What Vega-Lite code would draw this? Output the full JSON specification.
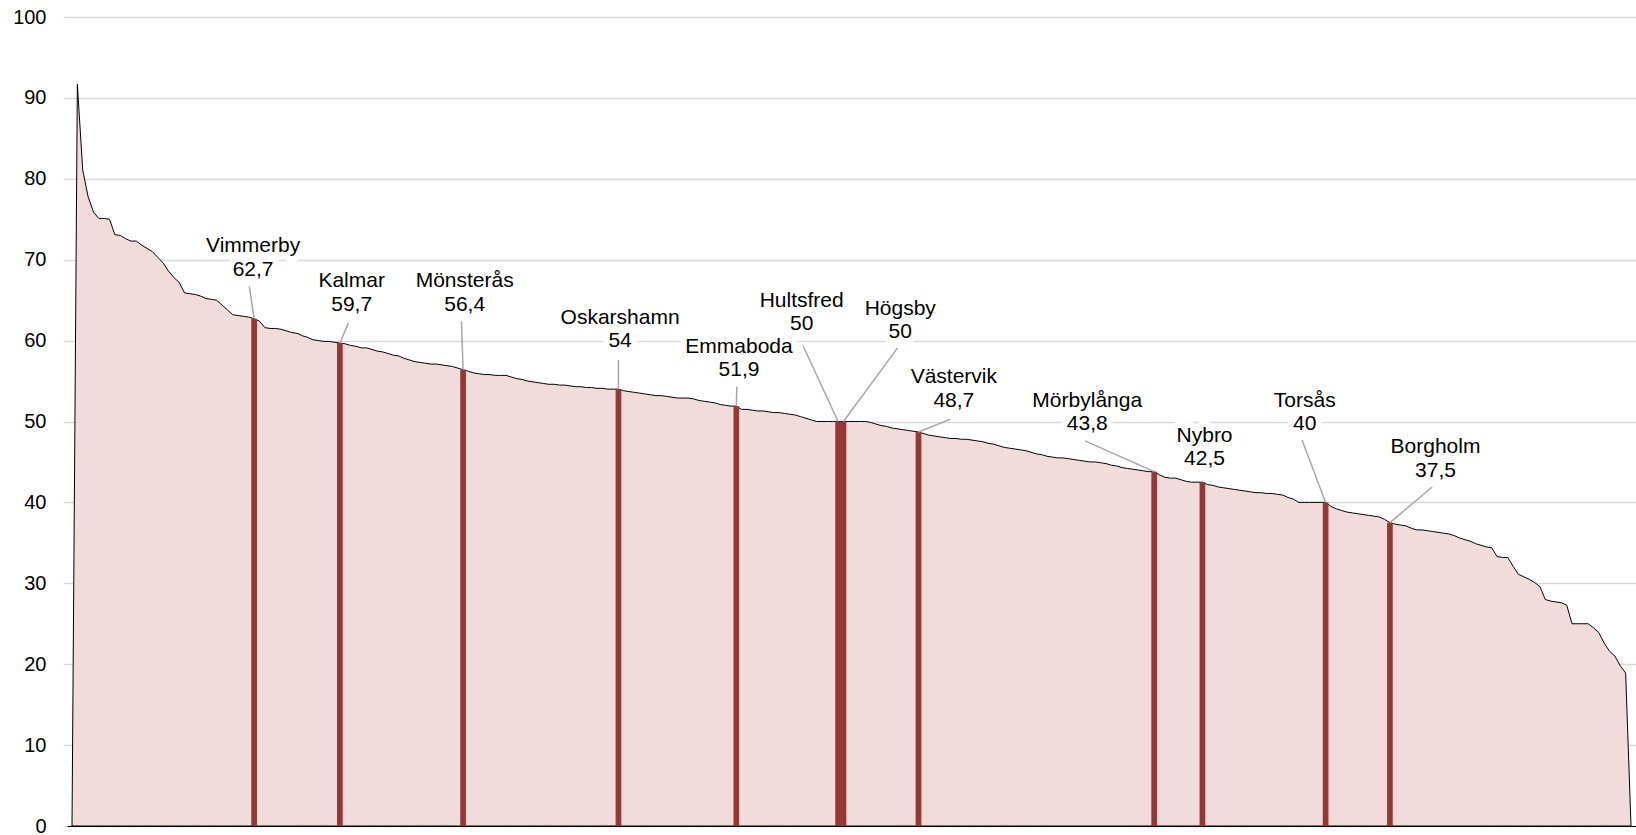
{
  "$schema": "https://vega.github.io/schema/vega-lite/v6.json",
  "width": 1569,
  "height": 809,
  "autosize": {"type": "none"},
  "padding": {"left": 67, "top": 17, "right": 0, "bottom": 9},
  "background": "white",
  "config": {"view": {"stroke": null}, "font": "Liberation Sans"},
  "datasets": {
    "all": [
      {"r":0,"v":0},
      {"r":1,"v":91.7},{"r":2,"v":81.1},{"r":3,"v":77.8},{"r":4,"v":75.9},{"r":5,"v":75.1},{"r":6,"v":75.1},{"r":7,"v":75.0},{"r":8,"v":73.1},{"r":9,"v":73.0},{"r":10,"v":72.6},
      {"r":11,"v":72.3},{"r":12,"v":72.3},{"r":13,"v":71.8},{"r":14,"v":71.4},{"r":15,"v":71.0},{"r":16,"v":70.3},{"r":17,"v":69.6},{"r":18,"v":68.6},{"r":19,"v":67.8},{"r":20,"v":67.2},
      {"r":21,"v":65.9},{"r":22,"v":65.8},{"r":23,"v":65.7},{"r":24,"v":65.5},{"r":25,"v":65.2},{"r":26,"v":65.1},{"r":27,"v":65.0},{"r":28,"v":64.4},{"r":29,"v":63.8},{"r":30,"v":63.2},
      {"r":31,"v":63.1},{"r":32,"v":63.0},{"r":33,"v":62.9},{"r":34,"v":62.7},{"r":35,"v":62.4},{"r":36,"v":61.6},{"r":37,"v":61.5},{"r":38,"v":61.5},{"r":39,"v":61.4},{"r":40,"v":61.2},
      {"r":41,"v":61.0},{"r":42,"v":60.9},{"r":43,"v":60.6},{"r":44,"v":60.4},{"r":45,"v":60.1},{"r":46,"v":60.0},{"r":47,"v":59.9},{"r":48,"v":59.9},{"r":49,"v":59.8},{"r":50,"v":59.7},
      {"r":51,"v":59.6},{"r":52,"v":59.4},{"r":53,"v":59.3},{"r":54,"v":59.1},{"r":55,"v":59.1},{"r":56,"v":58.9},{"r":57,"v":58.7},{"r":58,"v":58.6},{"r":59,"v":58.4},{"r":60,"v":58.2},
      {"r":61,"v":58.1},{"r":62,"v":57.8},{"r":63,"v":57.6},{"r":64,"v":57.4},{"r":65,"v":57.3},{"r":66,"v":57.2},{"r":67,"v":57.1},{"r":68,"v":57.1},{"r":69,"v":57.0},{"r":70,"v":56.9},
      {"r":71,"v":56.8},{"r":72,"v":56.6},{"r":73,"v":56.4},{"r":74,"v":56.2},{"r":75,"v":56.0},{"r":76,"v":55.9},{"r":77,"v":55.8},{"r":78,"v":55.8},{"r":79,"v":55.7},{"r":80,"v":55.7},
      {"r":81,"v":55.7},{"r":82,"v":55.5},{"r":83,"v":55.3},{"r":84,"v":55.2},{"r":85,"v":55.0},{"r":86,"v":54.9},{"r":87,"v":54.8},{"r":88,"v":54.7},{"r":89,"v":54.6},{"r":90,"v":54.6},
      {"r":91,"v":54.5},{"r":92,"v":54.5},{"r":93,"v":54.4},{"r":94,"v":54.3},{"r":95,"v":54.3},{"r":96,"v":54.2},{"r":97,"v":54.2},{"r":98,"v":54.1},{"r":99,"v":54.1},{"r":100,"v":54.0},
      {"r":101,"v":54.0},{"r":102,"v":54.0},{"r":103,"v":53.8},{"r":104,"v":53.7},{"r":105,"v":53.6},{"r":106,"v":53.5},{"r":107,"v":53.4},{"r":108,"v":53.3},{"r":109,"v":53.2},{"r":110,"v":53.2},
      {"r":111,"v":53.1},{"r":112,"v":53.0},{"r":113,"v":52.9},{"r":114,"v":52.9},{"r":115,"v":52.9},{"r":116,"v":52.8},{"r":117,"v":52.6},{"r":118,"v":52.5},{"r":119,"v":52.4},{"r":120,"v":52.3},
      {"r":121,"v":52.1},{"r":122,"v":52.0},{"r":123,"v":51.9},{"r":124,"v":51.9},{"r":125,"v":51.5},{"r":126,"v":51.5},{"r":127,"v":51.4},{"r":128,"v":51.3},{"r":129,"v":51.3},{"r":130,"v":51.2},
      {"r":131,"v":51.1},{"r":132,"v":51.1},{"r":133,"v":51.0},{"r":134,"v":50.9},{"r":135,"v":50.8},{"r":136,"v":50.6},{"r":137,"v":50.4},{"r":138,"v":50.2},{"r":139,"v":50.0},{"r":140,"v":50.0},
      {"r":141,"v":50.0},{"r":142,"v":50.0},{"r":143,"v":50.0},{"r":144,"v":50.0},{"r":145,"v":50.0},{"r":146,"v":50.0},{"r":147,"v":50.0},{"r":148,"v":50.0},{"r":149,"v":49.9},{"r":150,"v":49.7},
      {"r":151,"v":49.5},{"r":152,"v":49.4},{"r":153,"v":49.2},{"r":154,"v":49.1},{"r":155,"v":49.0},{"r":156,"v":48.9},{"r":157,"v":48.8},{"r":158,"v":48.7},{"r":159,"v":48.5},{"r":160,"v":48.3},
      {"r":161,"v":48.2},{"r":162,"v":48.1},{"r":163,"v":48.0},{"r":164,"v":47.9},{"r":165,"v":47.9},{"r":166,"v":47.8},{"r":167,"v":47.8},{"r":168,"v":47.7},{"r":169,"v":47.6},{"r":170,"v":47.5},
      {"r":171,"v":47.3},{"r":172,"v":47.2},{"r":173,"v":47.0},{"r":174,"v":46.8},{"r":175,"v":46.7},{"r":176,"v":46.6},{"r":177,"v":46.5},{"r":178,"v":46.4},{"r":179,"v":46.2},{"r":180,"v":46.0},
      {"r":181,"v":45.9},{"r":182,"v":45.7},{"r":183,"v":45.6},{"r":184,"v":45.5},{"r":185,"v":45.5},{"r":186,"v":45.4},{"r":187,"v":45.3},{"r":188,"v":45.2},{"r":189,"v":45.1},{"r":190,"v":45.0},
      {"r":191,"v":45.0},{"r":192,"v":44.9},{"r":193,"v":44.8},{"r":194,"v":44.6},{"r":195,"v":44.5},{"r":196,"v":44.3},{"r":197,"v":44.2},{"r":198,"v":44.1},{"r":199,"v":44.0},{"r":200,"v":43.9},
      {"r":201,"v":43.8},{"r":202,"v":43.8},{"r":203,"v":43.4},{"r":204,"v":43.1},{"r":205,"v":43.0},{"r":206,"v":43.0},{"r":207,"v":42.8},{"r":208,"v":42.6},{"r":209,"v":42.5},{"r":210,"v":42.5},
      {"r":211,"v":42.5},{"r":212,"v":42.2},{"r":213,"v":42.1},{"r":214,"v":41.9},{"r":215,"v":41.8},{"r":216,"v":41.7},{"r":217,"v":41.6},{"r":218,"v":41.5},{"r":219,"v":41.4},{"r":220,"v":41.3},
      {"r":221,"v":41.2},{"r":222,"v":41.2},{"r":223,"v":41.1},{"r":224,"v":41.1},{"r":225,"v":41.0},{"r":226,"v":40.9},{"r":227,"v":40.6},{"r":228,"v":40.4},{"r":229,"v":40.0},{"r":230,"v":40.0},
      {"r":231,"v":40.0},{"r":232,"v":40.0},{"r":233,"v":40.0},{"r":234,"v":40.0},{"r":235,"v":39.5},{"r":236,"v":39.2},{"r":237,"v":39.0},{"r":238,"v":38.8},{"r":239,"v":38.7},{"r":240,"v":38.6},
      {"r":241,"v":38.5},{"r":242,"v":38.4},{"r":243,"v":38.3},{"r":244,"v":38.2},{"r":245,"v":37.9},{"r":246,"v":37.5},{"r":247,"v":37.3},{"r":248,"v":37.2},{"r":249,"v":37.1},{"r":250,"v":36.8},
      {"r":251,"v":36.6},{"r":252,"v":36.6},{"r":253,"v":36.5},{"r":254,"v":36.4},{"r":255,"v":36.3},{"r":256,"v":36.2},{"r":257,"v":36.1},{"r":258,"v":35.9},{"r":259,"v":35.6},{"r":260,"v":35.4},
      {"r":261,"v":35.2},{"r":262,"v":34.9},{"r":263,"v":34.7},{"r":264,"v":34.5},{"r":265,"v":34.4},{"r":266,"v":33.3},{"r":267,"v":33.2},{"r":268,"v":33.2},{"r":269,"v":32.1},{"r":270,"v":31.1},
      {"r":271,"v":30.8},{"r":272,"v":30.5},{"r":273,"v":30.1},{"r":274,"v":29.6},{"r":275,"v":28.0},{"r":276,"v":27.8},{"r":277,"v":27.7},{"r":278,"v":27.6},{"r":279,"v":27.3},{"r":280,"v":25.0},
      {"r":281,"v":25.0},{"r":282,"v":25.0},{"r":283,"v":25.0},{"r":284,"v":24.5},{"r":285,"v":23.9},{"r":286,"v":22.6},{"r":287,"v":21.6},{"r":288,"v":21.0},{"r":289,"v":19.8},{"r":290,"v":18.9},
      {"r":291,"v":0}
    ],
    "kalmar": [
      {"name":"Vimmerby","text":"Vimmerby\n62,7","r":34,"v":62.7,"lx":33.8,"ly":70.9,"sx":33.1,"sy":66.7},
      {"name":"Kalmar","text":"Kalmar\n59,7","r":50,"v":59.7,"lx":52.2,"ly":66.6,"sx":51.6,"sy":62.2},
      {"name":"Mönsterås","text":"Mönsterås\n56,4","r":73,"v":56.4,"lx":73.3,"ly":66.6,"sx":72.7,"sy":62.4},
      {"name":"Oskarshamn","text":"Oskarshamn\n54","r":102,"v":54.0,"lx":102.3,"ly":62.1,"sx":102.0,"sy":57.6},
      {"name":"Emmaboda","text":"Emmaboda\n51,9","r":124,"v":51.9,"lx":124.5,"ly":58.5,"sx":124.1,"sy":54.3},
      {"name":"Hultsfred","text":"Hultsfred\n50","r":143,"v":50.0,"lx":136.2,"ly":64.2,"sx":136.5,"sy":59.3},
      {"name":"Högsby","text":"Högsby\n50","r":144,"v":50.0,"lx":154.6,"ly":63.2,"sx":154.1,"sy":59.1},
      {"name":"Västervik","text":"Västervik\n48,7","r":158,"v":48.7,"lx":164.6,"ly":54.7,"sx":164.0,"sy":50.3},
      {"name":"Mörbylånga","text":"Mörbylånga\n43,8","r":202,"v":43.8,"lx":189.5,"ly":51.8,"sx":189.1,"sy":47.6},
      {"name":"Nybro","text":"Nybro\n42,5","r":211,"v":42.5,"lx":211.4,"ly":47.5,"sx":null,"sy":null},
      {"name":"Torsås","text":"Torsås\n40","r":234,"v":40.0,"lx":230.1,"ly":51.85,"sx":229.6,"sy":47.7},
      {"name":"Borgholm","text":"Borgholm\n37,5","r":246,"v":37.5,"lx":254.5,"ly":46.1,"sx":253.9,"sy":41.9}
    ]
  },
  "layer": [
    {
      "data": {"name": "all"},
      "mark": {"type": "area", "fill": "#f2dcdb", "stroke": "#000000", "strokeWidth": 1, "interpolate": "linear"},
      "encoding": {
        "x": {"field": "r", "type": "quantitative", "title": null,
              "scale": {"domain": [0, 291], "nice": false, "zero": false},
              "axis": {"labels": false, "ticks": false, "grid": false, "domainColor": "#000000", "domainWidth": 1.2, "zindex": 1}},
        "y": {"field": "v", "type": "quantitative", "title": null,
              "scale": {"domain": [0, 100], "nice": false},
              "axis": {"values": [0,10,20,30,40,50,60,70,80,90,100], "grid": true, "gridColor": "#d9d9d9", "gridWidth": 1.5,
                       "domain": false, "tickColor": "#d9d9d9", "tickSize": 4, "tickWidth": 1.5,
                       "labelFontSize": 20, "labelColor": "#000000", "labelPadding": 17, "labelFont": "Liberation Sans"}}
      }
    },
    {
      "data": {"name": "kalmar"},
      "mark": {"type": "bar", "color": "#953735", "size": 5.7},
      "encoding": {
        "x": {"field": "r", "type": "quantitative", "title": null},
        "y": {"field": "v", "type": "quantitative", "title": null}
      }
    },
    {
      "data": {"name": "kalmar"},
      "mark": {"type": "text", "align": "center", "baseline": "alphabetic", "fontSize": 21, "lineHeight": 23.5, "lineBreak": "\n",
               "font": "Liberation Sans", "fill": "#ffffff", "stroke": "#ffffff", "strokeWidth": 13, "strokeJoin": "round"},
      "encoding": {
        "x": {"field": "lx", "type": "quantitative", "title": null},
        "y": {"field": "ly", "type": "quantitative", "title": null},
        "text": {"field": "text", "type": "nominal"}
      }
    },
    {
      "data": {"name": "kalmar"},
      "transform": [{"filter": "datum.sx != null"}],
      "mark": {"type": "rule", "color": "#a6a6a6", "strokeWidth": 1.5},
      "encoding": {
        "x": {"field": "sx", "type": "quantitative", "title": null},
        "y": {"field": "sy", "type": "quantitative", "title": null},
        "x2": {"field": "r"},
        "y2": {"field": "v"}
      }
    },
    {
      "data": {"name": "kalmar"},
      "mark": {"type": "text", "align": "center", "baseline": "alphabetic", "fontSize": 21, "lineHeight": 23.5, "lineBreak": "\n",
               "font": "Liberation Sans", "color": "#000000"},
      "encoding": {
        "x": {"field": "lx", "type": "quantitative", "title": null},
        "y": {"field": "ly", "type": "quantitative", "title": null},
        "text": {"field": "text", "type": "nominal"}
      }
    }
  ]
}
